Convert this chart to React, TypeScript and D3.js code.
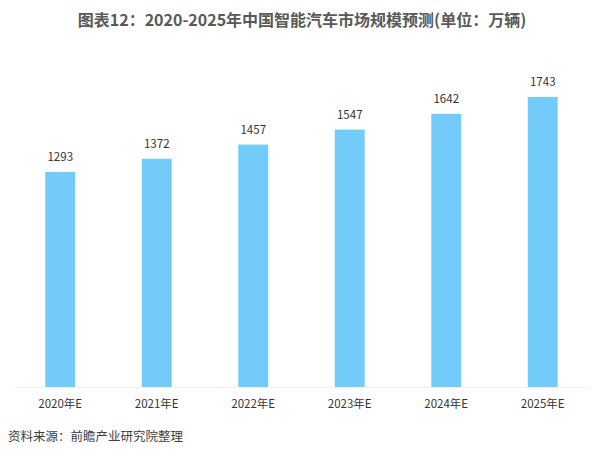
import * as d3 from 'd3'

const categories = ['2020年E', '2021年E', '2022年E', '2023年E', '2024年E', '2025年E']
const values = [1293, 1372, 1457, 1547, 1642, 1743]

const W = 604
const H = 459
const font = '"Noto Sans CJK SC", "Noto Sans", sans-serif'

export default function App() {
  const margin = { left: 12, right: 13, top: 97, bottom: 72 }
  const baseY = H - margin.bottom

  const x = d3
    .scaleBand<string>()
    .domain(categories)
    .range([margin.left, W - margin.right])
    .paddingInner(0.69)
    .paddingOuter(0.345)
  const y = d3.scaleLinear().domain([0, d3.max(values)!]).range([baseY, margin.top])

  return (
    <svg
      width={W}
      height={H}
      style={{ position: 'absolute', left: 0, top: 0, background: '#fff' }}
      fontFamily={font}
    >
      <text x={W / 2} y={26} textAnchor="middle" fontSize={16} fontWeight="bold" fill="#595959">
        图表12：2020-2025年中国智能汽车市场规模预测(单位：万辆)
      </text>
      <line x1={15} x2={590} y1={baseY + 0.5} y2={baseY + 0.5} stroke="#f0f0f0" />
      {values.map((v, i) => {
        const c = categories[i]
        const bx = x(c)!
        return (
          <g key={c}>
            <rect x={bx} y={y(v)} width={x.bandwidth()} height={baseY - y(v)} fill="#72cbf8" />
            <text
              x={bx + x.bandwidth() / 2}
              y={y(v) - 11}
              textAnchor="middle"
              fontSize={11.5}
              fill="#333"
            >
              {v}
            </text>
            <text x={bx + x.bandwidth() / 2} y={408} textAnchor="middle" fontSize={11.5} fill="#333">
              {c}
            </text>
          </g>
        )
      })}
      <text x={8} y={441} fontSize={12.5} fill="#404040">
        资料来源：前瞻产业研究院整理
      </text>
    </svg>
  )
}
